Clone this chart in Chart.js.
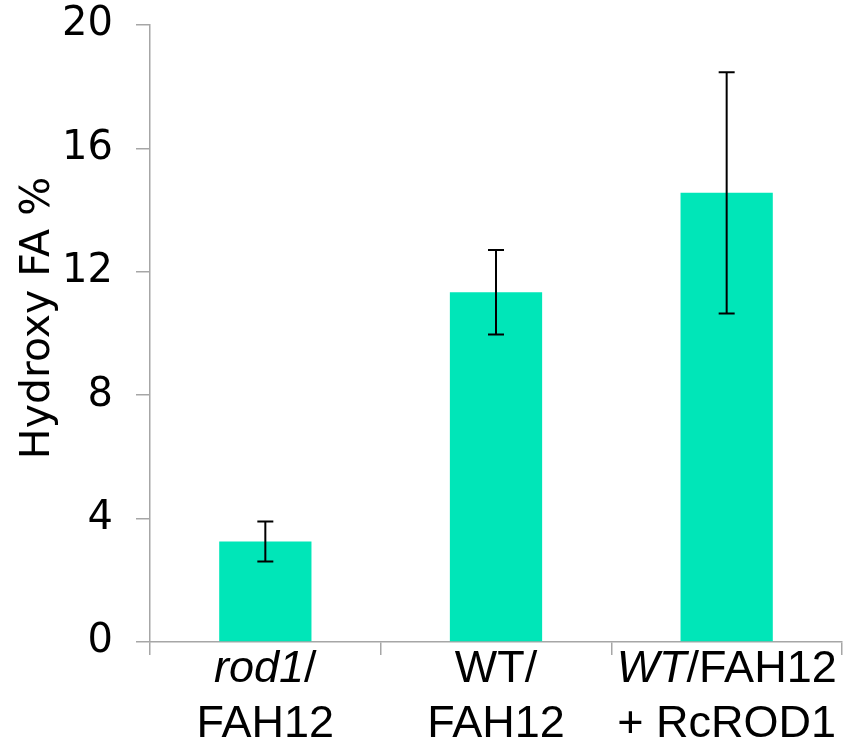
<!DOCTYPE html>
<html>
<head>
<meta charset="utf-8">
<script src="https://cdn.jsdelivr.net/npm/chart.js@4"></script>
<style>
  html, body { margin: 0; padding: 0; background: #fff; }
  #wrap { width: 856px; height: 743px; }
</style>
</head>
<body>
<div id="wrap"><canvas id="fa_chart"></canvas></div>
<script>
  // Setup Block
  const categories = ['rod1/FAH12', 'WT/FAH12', 'WT/FAH12 + RcROD1'];
  const hydroxy_fa = [3.26, 11.34, 14.56];
  const error_sd   = [0.65, 1.37, 3.91];
  const y_ticks    = [0, 4, 8, 12, 16, 20];

  // label lines, each part: [text, italic]
  const label_lines = [
    [[['rod1', true], ['/', false]], [['FAH12', false]]],
    [[['WT/', false]], [['FAH12', false]]],
    [[['WT', true], ['/FAH12', false]], [['+ RcROD1', false]]],
  ];

  const bar_color  = '#00E6B8';
  const axis_color = '#A6A6A6';
  const label_font = "'Liberation Sans', Arial, sans-serif";
  const tick_font  = "'DejaVu Sans', Verdana, sans-serif";

  // Plugin - error bars
  const errorBars = {
    id: 'errorBars',
    afterDatasetsDraw(chart) {
      const { ctx, scales: { x, y } } = chart;
      ctx.save();
      ctx.strokeStyle = '#000';
      ctx.lineWidth = 2;
      hydroxy_fa.forEach((v, i) => {
        const cx = x.getPixelForValue(i);
        const top = y.getPixelForValue(v + error_sd[i]);
        const bot = y.getPixelForValue(v - error_sd[i]);
        ctx.beginPath();
        ctx.moveTo(cx, top); ctx.lineTo(cx, bot);
        ctx.moveTo(cx - 8, top); ctx.lineTo(cx + 8, top);
        ctx.moveTo(cx - 8, bot); ctx.lineTo(cx + 8, bot);
        ctx.stroke();
      });
      ctx.restore();
    }
  };

  // Plugin - category labels with italic parts, plus the y title
  const textLabels = {
    id: 'textLabels',
    afterDraw(chart) {
      const { ctx, scales: { x, y } } = chart;
      ctx.save();
      ctx.fillStyle = '#000';
      ctx.textBaseline = 'alphabetic';
      ctx.textAlign = 'left';
      const baselines = [x.top + 40, x.top + 95];
      label_lines.forEach((lines, i) => {
        const cx = x.getPixelForValue(i);
        lines.forEach((parts, li) => {
          let w = 0;
          parts.forEach(([t, it]) => {
            ctx.font = (it ? 'italic ' : '') + '45px ' + label_font;
            w += ctx.measureText(t).width;
          });
          let px = cx - w / 2;
          parts.forEach(([t, it]) => {
            ctx.font = (it ? 'italic ' : '') + '45px ' + label_font;
            ctx.fillText(t, px, baselines[li]);
            px += ctx.measureText(t).width;
          });
        });
      });

      // y axis title
      ctx.translate(38, 318);
      ctx.rotate(-Math.PI / 2);
      ctx.textAlign = 'center';
      ctx.textBaseline = 'middle';
      ctx.font = '41px ' + tick_font;
      ctx.fillText('Hydroxy FA %', 0, 0);
      ctx.restore();
    }
  };

  // Config block
  const config = {
    type: 'bar',
    data: {
      labels: categories,
      datasets: [{
        data: hydroxy_fa,
        backgroundColor: bar_color,
        borderWidth: 0,
        categoryPercentage: 1,
        barPercentage: 0.4,
      }]
    },
    options: {
      responsive: true,
      maintainAspectRatio: false,
      animation: false,
      layout: { padding: { top: 25, right: 14, left: 0, bottom: 0 } },
      plugins: { legend: { display: false }, tooltip: { enabled: false } },
      scales: {
        x: {
          grid: {
            offset: true,
            drawOnChartArea: false,
            drawTicks: true,
            tickLength: 13,
            color: axis_color,
            lineWidth: 1.5,
          },
          border: { color: axis_color, width: 1.5 },
          ticks: { display: false },
          afterFit(scale) { scale.height = 101; },
        },
        y: {
          min: 0,
          max: 20,
          afterBuildTicks(scale) { scale.ticks = y_ticks.map(v => ({ value: v })); },
          grid: {
            drawOnChartArea: false,
            drawTicks: true,
            tickLength: 14,
            color: axis_color,
            lineWidth: 1.5,
          },
          border: { color: axis_color, width: 1.5 },
          ticks: {
            color: '#000',
            padding: 23,
            font: { family: tick_font, size: 40 },
          },
          afterFit(scale) {
            scale.width = 150;
            scale.paddingTop = 0;
            scale.paddingBottom = 0;
          },
        }
      }
    },
    plugins: [errorBars, textLabels]
  };

  // render block
  const mychart = new Chart(document.getElementById('fa_chart'), config);
</script>
</body>
</html>
